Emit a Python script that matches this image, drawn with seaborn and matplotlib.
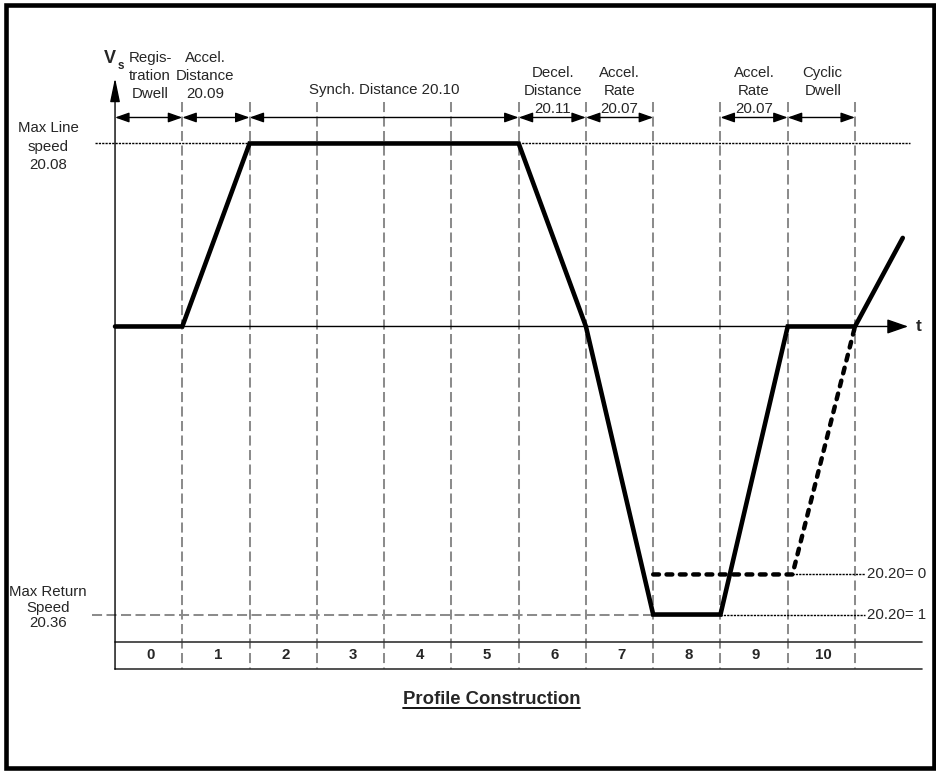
import matplotlib
matplotlib.use("Agg")
import matplotlib.pyplot as plt
from matplotlib.patches import Rectangle
import seaborn as sns

# ---------------- data ----------------
segment_numbers = ["0", "1", "2", "3", "4", "5", "6", "7", "8", "9", "10"]
segment_edges = [1, 2, 3, 4, 5, 6, 7, 8, 9, 10, 11]
table_end = 12

max_line_speed = 1.0         # 20.08
max_return_speed = -1.574    # 20.36
return_dwell_speed = -1.355  # level used when 20.20 = 0

# speed profile (20.20 = 1)
profile_time = [0, 1, 2, 6, 7, 8, 9, 10, 11, 11.71]
profile_speed = [0, 0, 1.0, 1.0, 0, -1.574, -1.574, 0, 0, 0.484]

# alternative return path (20.20 = 0)
alt_time = [8, 10.07, 11]
alt_speed = [-1.355, -1.355, 0]

interval_starts = [0, 1, 2, 6, 7, 9, 10]
interval_ends = [1, 2, 6, 7, 8, 10, 11]
interval_labels = [
    "Regis-\ntration\nDwell",
    "Accel.\nDistance\n20.09",
    "Synch. Distance 20.10",
    "Decel.\nDistance\n20.11",
    "Accel.\nRate\n20.07",
    "Accel.\nRate\n20.07",
    "Cyclic\nDwell",
]
level_labels = ["20.20= 0", "20.20= 1"]

# ---------------- layout ----------------
label_x = [0.52, 1.34, 4.0, 6.51, 7.5, 9.5, 10.52]
label_top = [1.467, 1.467, 1.292, 1.385, 1.385, 1.385, 1.385]
row_step = 0.0973
arrow_y = 1.142
grid_top, grid_bottom = 1.227, -1.873
table_top = -1.722
fs = 10.8

sns.set_theme(style="white")
plt.rcParams["font.family"] = ["Liberation Sans", "DejaVu Sans"]

fig = plt.figure(figsize=(9.37, 7.71), dpi=100)
ax = fig.add_axes([0, 0, 1, 1])
ax.set_xlim(-1.710, 12.219)
ax.set_ylim(-2.429, 1.784)
ax.axis("off")

grey = "#8c8c8c"
dash = (0, (5, 2.2))
dotted = (0, (1.6, 0.8))

# segment boundaries
for e in segment_edges:
    ax.plot([e, e], [grid_top, grid_bottom], color=grey, lw=1.45, ls=dash, zorder=1)

# max return speed reference
ax.plot([-0.34, 8], [max_return_speed, max_return_speed], color=grey, lw=1.45,
        ls=dash, zorder=1)

# max line speed reference (dotted)
ax.plot([-0.296, 11.82], [max_line_speed, max_line_speed], color="black", lw=1.0,
        ls=dotted, zorder=2)

# 20.20 level indicators
ax.plot([alt_time[1], 11.15], [return_dwell_speed, return_dwell_speed], color="black",
        lw=1.0, ls=dotted, zorder=2)
ax.plot([9, 11.15], [max_return_speed, max_return_speed], color="black",
        lw=1.0, ls=dotted, zorder=2)
for lvl, txt in zip([return_dwell_speed, max_return_speed], level_labels):
    ax.text(11.18, lvl, txt, ha="left", va="center", fontsize=fs)

# axes with arrow heads
ax.annotate("", xy=(0, 1.358), xytext=(0, grid_bottom),
            arrowprops=dict(arrowstyle="-|>,head_length=1.45,head_width=0.3",
                            mutation_scale=10, color="black", lw=1.0,
                            shrinkA=0, shrinkB=0), zorder=3)
ax.annotate("", xy=(11.79, 0), xytext=(0, 0),
            arrowprops=dict(arrowstyle="-|>,head_length=1.3,head_width=0.45",
                            mutation_scale=10, color="black", lw=1.0,
                            shrinkA=0, shrinkB=0), zorder=3)
ax.text(11.94, 0, "t", ha="center", va="center", fontsize=12.5, fontweight="bold")
ax.text(-0.073, 1.467, "V", ha="center", va="center", fontsize=13, fontweight="bold")
ax.text(0.085, 1.425, "s", ha="center", va="center", fontsize=8.5, fontweight="bold")

# speed profiles
sns.lineplot(x=profile_time, y=profile_speed, ax=ax, sort=False, estimator=None,
             color="black", lw=3.3, solid_joinstyle="miter", zorder=5)
sns.lineplot(x=alt_time, y=alt_speed, ax=ax, sort=False, estimator=None,
             color="black", lw=3.2, ls=(0, (1.3, 1.7)), dash_capstyle="round", zorder=4)

# interval arrows and labels
for s, e, lab, lx, ly in zip(interval_starts, interval_ends, interval_labels,
                             label_x, label_top):
    ax.annotate("", xy=(e, arrow_y), xytext=(s, arrow_y),
                arrowprops=dict(arrowstyle="<|-|>,head_length=0.85,head_width=0.3",
                                mutation_scale=10, color="black", lw=1.0,
                                shrinkA=0, shrinkB=0), zorder=3)
    for i, line in enumerate(lab.split("\n")):
        ax.text(lx, ly - i * row_step, line, ha="center", va="center", fontsize=fs)

# side labels
for i, line in enumerate(["Max Line", "speed", "20.08"]):
    ax.text(-0.996, 1.083 - i * 0.1, line, ha="center", va="center", fontsize=fs)
for i, line in enumerate(["Max Return", "Speed", "20.36"]):
    ax.text(-0.996, -1.451 - i * 0.0855, line, ha="center", va="center", fontsize=fs)

# segment table
for yy in [table_top, grid_bottom]:
    ax.plot([0, table_end], [yy, yy], color="#333333", lw=1.2, zorder=2)
cell_left = [0] + segment_edges[:-1]
for num, l, r in zip(segment_numbers, cell_left, segment_edges):
    ax.text((l + r) / 2 + 0.03, (table_top + grid_bottom) / 2, num, ha="center",
            va="center", fontsize=fs, fontweight="bold")

# caption with underline
cap = ax.text(5.60, -2.041, "Profile Construction", ha="center", va="center",
              fontsize=13.3, fontweight="bold")
fig.canvas.draw()
bb = cap.get_window_extent().transformed(ax.transData.inverted())
ax.plot([bb.x0, bb.x1], [bb.y0 + 0.005, bb.y0 + 0.005], color="black", lw=1.3)

# outer frame
fig.patches.append(Rectangle((6 / 937, 3 / 771), 928 / 937, 763 / 771, fill=False,
                             edgecolor="black", lw=3.3, transform=fig.transFigure))

fig.savefig("out.png", dpi=100)
